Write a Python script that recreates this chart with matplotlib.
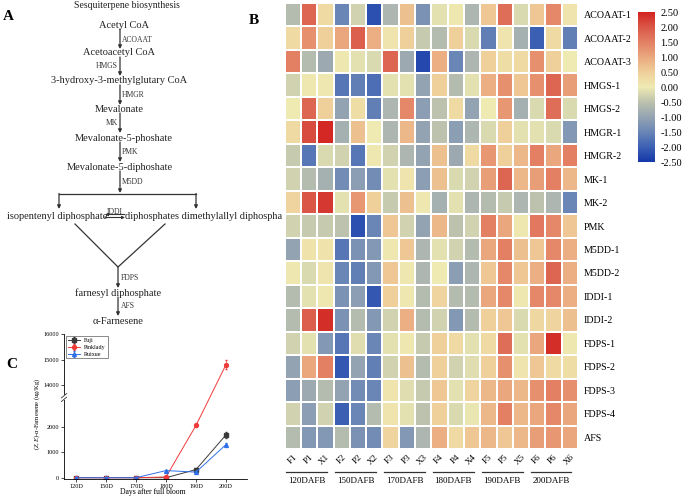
import numpy as np
import matplotlib
matplotlib.use("Agg")
import matplotlib.pyplot as plt
from matplotlib.colors import LinearSegmentedColormap, Normalize
from matplotlib.cm import ScalarMappable
from matplotlib.lines import Line2D
import matplotlib.transforms as mtransforms

plt.rcParams['font.family'] = ['Liberation Serif', 'DejaVu Serif']
plt.rcParams['mathtext.fontset'] = 'custom'
plt.rcParams['mathtext.rm'] = 'Liberation Serif'
plt.rcParams['mathtext.it'] = 'Liberation Serif:italic'

# ---------------- data ----------------
genes = ['ACOAAT-1', 'ACOAAT-2', 'ACOAAT-3', 'HMGS-1', 'HMGS-2', 'HMGR-1', 'HMGR-2',
         'MK-1', 'MK-2', 'PMK', 'M5DD-1', 'M5DD-2', 'IDDI-1', 'IDDI-2',
         'FDPS-1', 'FDPS-2', 'FDPS-3', 'FDPS-4', 'AFS']
samples = ['F1', 'P1', 'X1', 'F2', 'P2', 'X2', 'F3', 'P3', 'X3',
           'F4', 'P4', 'X4', 'F5', 'P5', 'X5', 'F6', 'P6', 'X6']
groups = ['120DAFB', '150DAFB', '170DAFB', '180DAFB', '190DAFB', '200DAFB']

ACOAAT_1 = [-0.6, 1.8, 0.3, -1.5, -0.3, -2.2, -0.7, 0.7, -1.3, -0.1, 0.05, -0.7, 0.6, 1.7, -0.2, 0.6, 1.4, 0.1]
ACOAAT_2 = [0.3, 1.3, 0.5, 1.0, 1.9, 0.9, 0.1, 0.5, -0.4, -0.6, 0.5, -0.2, -1.6, 0.1, -0.8, -2.0, 0.3, -1.6]
ACOAAT_3 = [1.5, -0.6, -0.9, 0.05, -0.1, -0.2, 1.8, -0.9, -2.3, 0.9, -1.5, -0.7, 0.5, 0.25, 0.3, 1.3, 0.5, 0.0]
HMGS_1 = [-0.3, 0.05, 0.05, -1.7, -1.6, -1.8, -0.1, -0.1, -1.0, 0.5, -0.6, -0.1, 0.9, 1.3, 0.6, 1.3, 1.8, 1.1]
HMGS_2 = [0.0, 1.8, 0.5, -1.0, 0.25, -1.6, -0.7, 1.4, -1.1, -0.5, 0.3, -1.0, 0.0, 1.2, -0.8, -0.2, 1.7, -0.2]
HMGR_1 = [0.3, 2.1, 2.45, -0.8, 0.7, 0.0, -0.7, 0.8, -1.0, -0.5, -1.1, -0.7, -0.2, 0.5, -0.1, -0.1, -0.2, -1.2]
HMGR_2 = [-0.4, -1.7, -0.2, -0.3, -1.7, 0.05, -0.3, -0.7, -1.0, 0.7, -0.9, 0.3, 1.2, 0.5, 0.8, 1.5, 1.0, 1.5]
MK_1 = [-0.3, -0.6, -0.8, -1.4, -1.1, -1.4, -0.1, 0.1, -1.1, 0.7, -0.2, -0.3, 1.1, 1.8, 0.8, 1.1, 1.5, 0.8]
MK_2 = [0.4, 2.0, 2.3, -0.1, 1.2, 0.5, -0.4, 0.7, 0.05, -0.8, -0.1, -0.7, -0.6, -0.4, -0.7, -0.5, -0.7, -1.5]
PMK = [-0.3, -0.4, -0.4, -0.5, -2.2, -1.5, 0.6, -0.3, -1.0, 0.8, -0.5, -0.3, 1.5, 1.0, 0.05, 1.6, 1.4, 0.6]
M5DD_1 = [-1.0, 0.15, 0.15, -1.7, -1.3, -1.2, 0.05, 0.6, -0.7, -0.1, -0.3, -0.6, 1.0, 1.5, 0.7, 0.6, 1.4, 0.9]
M5DD_2 = [0.05, -0.2, 0.1, -1.5, -1.6, -1.2, 0.6, 0.05, -0.7, 0.0, -1.1, -0.7, 0.6, 1.4, 0.6, 0.9, 1.8, 0.9]
IDDI_1 = [-0.6, -0.1, 0.05, -1.3, -1.1, -2.1, 0.5, 0.05, -0.6, 0.4, -0.6, -0.6, 1.0, 1.4, 0.05, 1.4, 1.4, 0.9]
IDDI_2 = [-0.6, 1.9, 2.4, -1.3, -0.6, -1.2, -0.3, 0.9, -0.6, -0.3, -1.2, -0.6, 0.5, 0.6, -0.2, 0.35, 0.4, 0.7]
FDPS_1 = [-0.3, -0.1, -1.2, -1.7, -0.15, -1.5, -0.1, 0.05, -0.4, 0.5, 0.3, -0.1, 0.3, 1.7, -0.1, 1.0, 2.4, 0.05]
FDPS_2 = [-1.0, 1.0, 1.5, -2.1, -1.0, -1.6, -0.3, 0.7, -0.6, 0.5, -0.3, -0.15, 0.5, 1.3, 0.1, 0.6, 0.3, 0.25]
FDPS_3 = [-1.1, -0.9, -0.6, -1.0, -1.4, -1.5, 0.1, -0.15, -0.4, 0.6, -0.1, 0.4, 0.8, 1.0, 0.8, 1.3, 1.5, 1.3]
FDPS_4 = [-0.3, -1.1, -0.3, -2.0, -1.5, -0.6, 0.1, -0.1, -0.5, 0.5, -0.2, -0.05, 0.8, 1.5, 0.8, 1.0, 1.4, 1.0]
AFS = [-0.6, -1.2, -1.2, -0.6, -1.3, -1.4, 0.4, -1.2, -0.7, 0.9, 0.3, 0.6, 0.8, 0.6, 0.8, 1.1, 1.2, 1.0]

stages = ['120D', '150D', '170D', '180D', '190D', '200D']
fuji = [0, 0, 0, 0, 320, 1680]
fuji_err = [0, 0, 0, 0, 50, 110]
pinklady = [0, 0, 0, 30, 2050, 14800]
pinklady_err = [0, 0, 0, 0, 60, 170]
ruixue = [0, 0, 0, 280, 220, 1300]
ruixue_err = [0, 0, 0, 30, 40, 60]
yticks_c = [0, 1000, 2000, 14000, 15000, 16000]

cbar_ticks = [2.5, 2.0, 1.5, 1.0, 0.5, 0.0, -0.5, -1.0, -1.5, -2.0, -2.5]

# ---------------- figure ----------------
W, H = 685, 498
fig = plt.figure(figsize=(W / 100, H / 100), dpi=100)


def px_axes(x0, y0, x1, y1):
    return fig.add_axes([x0 / W, 1 - y1 / H, (x1 - x0) / W, (y1 - y0) / H])


# ---------------- panel A ----------------
axA = px_axes(0, 0, 282, 332)
axA.set_xlim(0, 282)
axA.set_ylim(332, 0)
axA.axis('off')
tc = '#222222'
ec = '#333333'


def arrow(x0, y0, x1, y1):
    axA.annotate('', xy=(x1, y1), xytext=(x0, y0),
                 arrowprops=dict(arrowstyle='-|>', color=ec, lw=0.9,
                                 mutation_scale=5, shrinkA=0, shrinkB=0))


axA.text(8, 16, 'A', fontsize=11, fontweight='bold', ha='center', va='center', color='black')
axA.text(127, 5, 'Sesquiterpene biosynthesis', fontsize=7, ha='center', va='center', color=tc)
mets = [('Acetyl CoA', 124, 25), ('Acetoacetyl CoA', 119, 52),
        ('3-hydroxy-3-methylglutary CoA', 119, 80), ('Mevalonate', 119, 109),
        ('Mevalonate-5-phoshate', 124, 138), ('Mevalonate-5-diphoshate', 120, 167)]
for t, x, y in mets:
    axA.text(x, y, t, fontsize=7.5, ha='center', va='center', color=tc)
enz = [('ACOAAT', 122, 40, 'left'), ('HMGS', 118, 66, 'right'), ('HMGR', 122, 95, 'left'),
       ('MK', 118, 123, 'right'), ('PMK', 122, 152, 'left'), ('M5DD', 122, 182, 'left')]
for t, x, y, ha in enz:
    axA.text(x, y, t, fontsize=5.5, ha=ha, va='center', color=ec)
for y0, y1 in [(29, 49), (57, 76), (85, 105), (113, 133), (142, 162), (171, 193)]:
    arrow(120, y0, 120, y1)
axA.plot([59, 196], [193.5, 193.5], color=ec, lw=0.9)
arrow(59, 193.5, 59, 209)
arrow(196, 193.5, 196, 209)
axA.text(7, 216, 'isopentenyl diphosphate', fontsize=7.5, ha='left', va='center', color=tc)
axA.text(125, 216, 'diphosphates dimethylallyl diphosphate', fontsize=7.5, ha='left',
         va='center', color=tc, clip_on=True)
axA.text(115, 212, 'IDDI', fontsize=5.5, ha='center', va='center', color=ec)
axA.annotate('', xy=(105, 214.5), xytext=(125, 214.5),
             arrowprops=dict(arrowstyle='-|>', color=ec, lw=0.8, mutation_scale=4, shrinkA=0, shrinkB=0))
axA.annotate('', xy=(125, 217.5), xytext=(105, 217.5),
             arrowprops=dict(arrowstyle='-|>', color=ec, lw=0.8, mutation_scale=4, shrinkA=0, shrinkB=0))
axA.plot([75, 118, 165], [224, 267, 224], color=ec, lw=0.9)
arrow(118, 267, 118, 288)
axA.text(121, 278, 'FDPS', fontsize=5.5, ha='left', va='center', color=ec)
axA.text(118, 293, 'farnesyl diphosphate', fontsize=7.5, ha='center', va='center', color=tc)
arrow(118, 297, 118, 316)
axA.text(121, 306, 'AFS', fontsize=5.5, ha='left', va='center', color=ec)
axA.text(118, 321, 'α-Farnesene', fontsize=7.5, ha='center', va='center', color=tc)

# ---------------- panel B ----------------
matrix = np.array([ACOAAT_1, ACOAAT_2, ACOAAT_3, HMGS_1, HMGS_2, HMGR_1, HMGR_2,
                   MK_1, MK_2, PMK, M5DD_1, M5DD_2, IDDI_1, IDDI_2,
                   FDPS_1, FDPS_2, FDPS_3, FDPS_4, AFS])
cmap = LinearSegmentedColormap.from_list('hm', [
    (0.0, '#1538aa'), (0.1, '#3c60b3'), (0.2, '#6a86b6'), (0.3, '#95a4b2'),
    (0.4, '#bcc2ae'), (0.5, '#efeab2'), (0.6, '#efcf9a'), (0.7, '#eaa87e'),
    (0.8, '#e38064'), (0.9, '#da5748'), (1.0, '#d22420')])
norm = Normalize(-2.5, 2.5)

fig.text(254 / W, 1 - 21 / H, 'B', fontsize=11, fontweight='bold', ha='center', va='center')
axH = px_axes(284.7, 3, 578, 449)
axH.pcolormesh(matrix, cmap=cmap, norm=norm, edgecolors='white', linewidth=1.2)
axH.set_xlim(0, len(samples))
axH.set_ylim(len(genes), 0)
for s in axH.spines.values():
    s.set_visible(False)
axH.set_yticks(np.arange(len(genes)) + 0.5)
axH.set_yticklabels(genes, fontsize=7.2)
axH.yaxis.tick_right()
axH.set_xticks(np.arange(len(samples)) + 0.5)
axH.set_xticklabels(samples, fontsize=6.5, rotation=45, ha='right', rotation_mode='anchor')
axH.tick_params(axis='y', length=0, pad=4)
axH.tick_params(axis='x', length=0, pad=3)
trans = mtransforms.blended_transform_factory(axH.transData, axH.transAxes)
for g, name in enumerate(groups):
    axH.plot([3 * g + 0.1, 3 * g + 2.6], [-0.052, -0.052], transform=trans,
             color='#333333', lw=0.9, clip_on=False)
    axH.text(3 * g + 1.35, -0.071, name, transform=trans, ha='center', va='center', fontsize=6.5)

cax = px_axes(638, 12, 655, 162)
cb = fig.colorbar(ScalarMappable(norm=norm, cmap=cmap), cax=cax)
cb.set_ticks(cbar_ticks)
cb.set_ticklabels([f'{v:.2f}' for v in cbar_ticks])
cb.outline.set_visible(False)
cax.tick_params(length=0, labelsize=7.5, pad=4)

# ---------------- panel C (broken y axis) ----------------
B1, B2, G = 3100.0, 13550.0, 80.0


def fwd(y):
    y = np.asarray(y, dtype=float)
    return np.where(y <= B1, y,
                    np.where(y >= B2, y - (B2 - B1) + G, B1 + (y - B1) * G / (B2 - B1)))


def inv(t):
    t = np.asarray(t, dtype=float)
    return np.where(t <= B1, t,
                    np.where(t >= B1 + G, t + (B2 - B1) - G, B1 + (t - B1) * (B2 - B1) / G))


fig.text(12 / W, 1 - 364 / H, 'C', fontsize=11, fontweight='bold', ha='center', va='center')
axC = px_axes(64, 334, 247, 479)
axC.set_yscale('function', functions=(fwd, inv))
x = np.arange(len(stages))
series = [(fuji, fuji_err, 'Fuji', '#3a3a3a', 's'),
          (pinklady, pinklady_err, 'Pinklady', '#f03a3a', 'o'),
          (ruixue, ruixue_err, 'Ruixue', '#2f6fe8', '^')]
for vals, err, lab, col, mk in series:
    axC.errorbar(x, vals, yerr=err, color=col, marker=mk, markersize=2.8, lw=0.7,
                 elinewidth=0.5, capsize=0.8, label=lab)
axC.set_xlim(-0.4, 5.7)
axC.set_ylim(-50, 16000)
axC.set_yticks(yticks_c)
axC.set_yticklabels([str(v) for v in yticks_c])
axC.yaxis.set_minor_locator(matplotlib.ticker.NullLocator())
axC.set_xticks(x)
axC.set_xticklabels(stages)
for side in ('top', 'right'):
    axC.spines[side].set_visible(False)
axC.spines['left'].set_linewidth(0.6)
axC.spines['bottom'].set_linewidth(0.6)
axC.tick_params(labelsize=4.5, length=2, width=0.5, pad=1.5)
leg = axC.legend(loc='upper left', fontsize=4.3, frameon=True, fancybox=False,
                 edgecolor='#333333', borderpad=0.3, handlelength=2.0, labelspacing=0.3,
                 borderaxespad=0.3)
leg.get_frame().set_linewidth(0.5)

# break marks on the left spine
bx, by = axC.transData.transform((-0.4, B1))
_, by2 = axC.transData.transform((-0.4, B2))
ymid = (by + by2) / 2.0
inv_fig = fig.transFigure.inverted()


def disp_line(xs, ys, **kw):
    pts = inv_fig.transform(np.column_stack([xs, ys]))
    fig.add_artist(Line2D(pts[:, 0], pts[:, 1], transform=fig.transFigure, **kw))


disp_line([bx, bx], [ymid - 1.6, ymid + 1.6], color='white', lw=1.5)
for off in (-1.8, 1.8):
    disp_line([bx - 2.6, bx + 2.6], [ymid + off - 2.2, ymid + off + 2.2], color='#333333', lw=0.6)

fig.text(37 / W, 1 - 414 / H, r'($\it{Z,E}$)-α-Farnesene (ug/Kg)', rotation=90,
         ha='center', va='center', fontsize=4.7)
fig.text(153 / W, 1 - 492 / H, 'Days after full bloom', ha='center', va='center', fontsize=5.5)

fig.savefig('out.png', dpi=100)
